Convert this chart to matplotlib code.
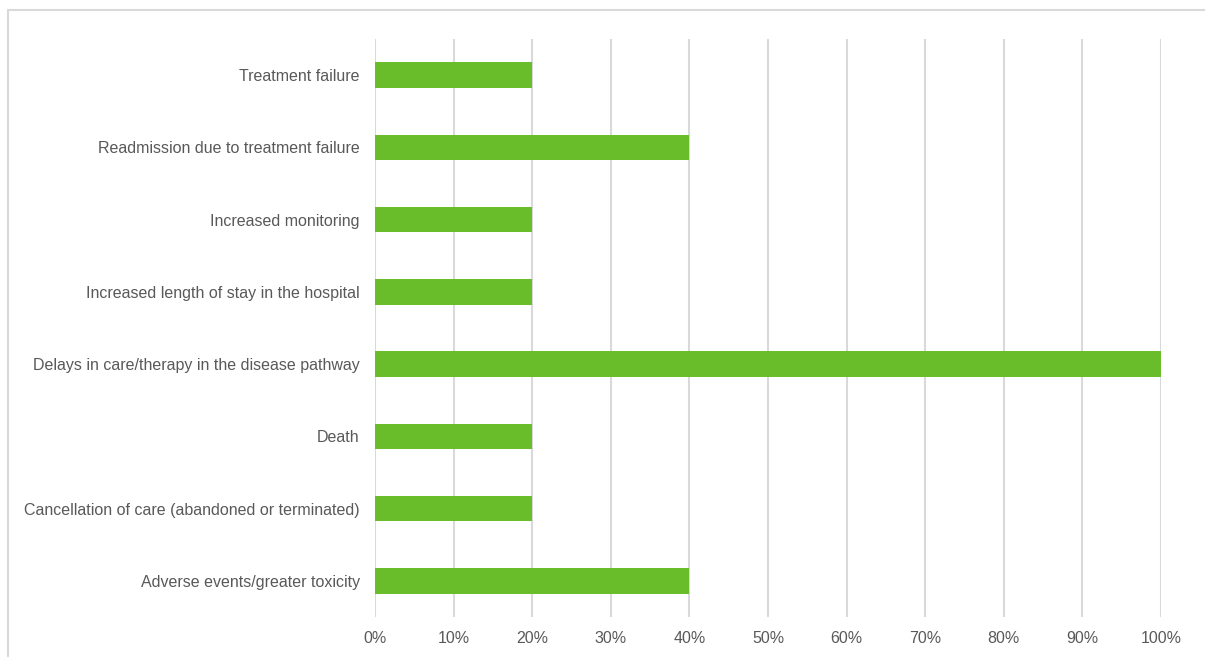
import matplotlib
matplotlib.use("Agg")
import matplotlib.pyplot as plt
from matplotlib.patches import Rectangle
from matplotlib.ticker import FuncFormatter

categories = [
    "Treatment failure",
    "Readmission due to treatment failure",
    "Increased monitoring",
    "Increased length of stay in the hospital",
    "Delays in care/therapy in the disease pathway",
    "Death",
    "Cancellation of care (abandoned or terminated)",
    "Adverse events/greater toxicity",
]
values = [20, 40, 20, 20, 100, 20, 20, 40]
xticks = [0, 10, 20, 30, 40, 50, 60, 70, 80, 90, 100]

plt.rcParams['font.family'] = ['Liberation Sans', 'DejaVu Sans']
W, H = 1205, 657
fig = plt.figure(figsize=(W / 100, H / 100), dpi=100)
fig.patch.set_facecolor("white")

# outer frame
fig.patches.append(Rectangle((8 / W, -0.1), 1.2, 1 - 10 / H + 0.1,
                             transform=fig.transFigure, fill=False,
                             edgecolor="#D9D9D9", linewidth=1.5))

ax = fig.add_axes([375 / W, 1 - 617 / H, (1161 - 375) / W, (617 - 39) / H])
ypos = list(range(len(categories)))
ax.barh(ypos, values, height=0.35, color="#6ABD2A", zorder=3)
ax.set_ylim(len(categories) - 0.5, -0.5)
ax.set_xlim(0, 100)
ax.set_yticks(ypos)
ax.set_yticklabels(categories)
ax.set_xticks(xticks)
ax.xaxis.set_major_formatter(FuncFormatter(lambda v, p: f"{int(v)}%"))
ax.grid(axis="x", color="#D9D9D9", linewidth=1.5, zorder=0)
for s in ax.spines.values():
    s.set_visible(False)
ax.tick_params(axis="both", length=0, labelsize=11.5, labelcolor="#595959")
ax.tick_params(axis="y", pad=11)
ax.tick_params(axis="x", pad=10)

fig.savefig("out.png", dpi=100)
